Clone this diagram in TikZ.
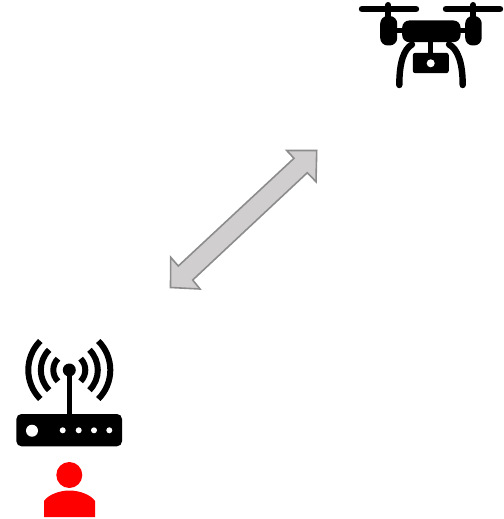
\documentclass[tikz,border=0pt]{standalone}
\usepackage{tikz}
\definecolor{arrowfill}{RGB}{208,206,206}
\definecolor{arrowline}{RGB}{140,140,140}
\tikzset{
  wave/.style={line width=6pt},
  solidpart/.style={fill=black, draw=none},
  rotorbar/.style={line width=6.4pt, line cap=round},
  droneleg/.style={line width=6.4pt, line cap=round},
  hole/.style={fill=white, draw=none},
}

\begin{document}
\begin{tikzpicture}[x=1pt, y=-1pt]
\useasboundingbox (0,0) rectangle (503,519);

\draw[fill=arrowfill, draw=arrowline, line width=1.6pt, line join=miter]
    (316.7,150.5) -- (286.7,150.5) -- (294,158.3) -- (178.3,266) -- (170.7,257.3)
    -- (170.5,287.5) -- (200,289) -- (192.7,280) -- (307.3,172.7) -- (316,181.7) -- cycle;

\draw[rotorbar] (362,9) -- (416,9);
\draw[rotorbar] (446,9) -- (500,9);
\draw[line width=6pt, line cap=round] (388.3,5) -- (388.3,20);
\draw[line width=6pt, line cap=round] (473.3,5) -- (473.3,20);
\fill[solidpart, rounded corners=7.5pt] (380.2,16) rectangle (397.2,45.5);
\fill[solidpart, rounded corners=7.5pt] (465.2,16) rectangle (481.7,45.5);
\fill[solidpart, rounded corners=7pt] (402.2,20.5) rectangle (460.5,42.2);
\draw[line width=5pt] (396,30.7) -- (403,30.7);
\draw[line width=5pt] (460,30.7) -- (466,30.7);
\draw[line width=5.4pt] (430.7,41) -- (430.7,54);
\fill[solidpart, rounded corners=2.5pt] (412.8,52.8) rectangle (448.8,73.2);
\fill[hole] (430.7,63.3) circle (4);
\draw[droneleg] (412,44.5) .. controls (404,49) and (399.3,62) .. (399.3,85);
\draw[droneleg] (449,44.5) .. controls (457.5,49) and (462.7,62) .. (462.7,85);

\foreach \r in {16,28.5,41} {
  \draw[wave] (69.3,370) ++(135:\r) arc[start angle=135, end angle=225, radius=\r];
  \draw[wave] (69.3,370) ++(-45:\r) arc[start angle=-45, end angle=45, radius=\r];
}
\draw[line width=5.6pt] (69.3,370) -- (69.3,415);
\fill[solidpart] (69.3,370) circle (6.5);
\fill[solidpart, rounded corners=5pt] (16.4,414) rectangle (122,446.3);
\fill[hole] (32,430.7) circle (6);
\foreach \x in {62.7,78.7,94,109.3} {
  \fill[hole] (\x,430.3) circle (3);
}

\fill[red] (69.3,475) circle (13);
\fill[red] (44,517) -- (44,501) .. controls (48,495) and (59,490.5) .. (69.3,490.5)
    .. controls (80,490.5) and (91,495) .. (95,501) -- (95,517) -- cycle;
\end{tikzpicture}
\end{document}
